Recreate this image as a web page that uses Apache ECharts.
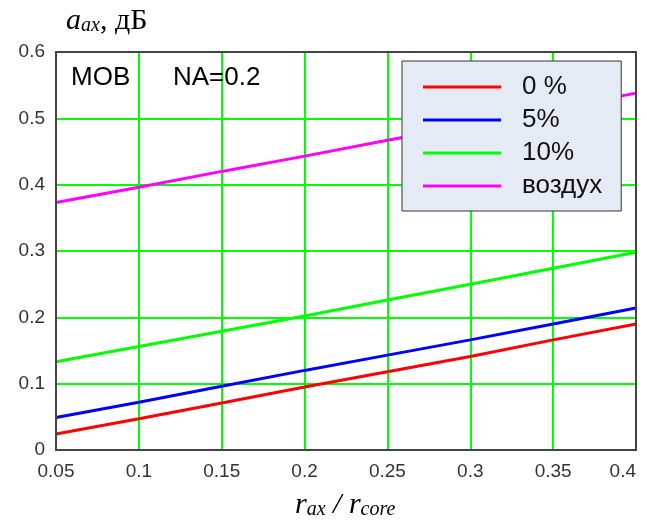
<!DOCTYPE html>
<html><head><meta charset="utf-8">
<script src="https://cdn.jsdelivr.net/npm/echarts@6/dist/echarts.min.js"></script>
<style>html,body{margin:0;padding:0;background:#fff}#c{width:647px;height:524px}</style>
</head><body><div id="c"></div>
<script>
const xValues = [0.05, 0.10, 0.15, 0.20, 0.25, 0.30, 0.35, 0.40];
const seriesNames = ['0 %', '5%', '10%', 'воздух'];
const red0 = [0.024, 0.047, 0.071, 0.095, 0.118, 0.141, 0.166, 0.190];
const blue5 = [0.049, 0.072, 0.096, 0.120, 0.143, 0.166, 0.190, 0.214];
const green10 = [0.133, 0.156, 0.179, 0.202, 0.226, 0.250, 0.274, 0.298];
const air = [0.373, 0.396, 0.420, 0.443, 0.467, 0.490, 0.514, 0.538];
const colors = ['#ff0000', '#0000ff', '#00ff00', '#ff00ff'];
const allData = [red0, blue5, green10, air];

const chart = echarts.init(document.getElementById('c'), null, {renderer: 'canvas'});
const fmt = v => String(Math.round(v * 100) / 100);
chart.setOption({
  animation: false,
  backgroundColor: '#ffffff',
  grid: {left: 56, right: 11, top: 52, bottom: 74, show: true, borderColor: '#444', borderWidth: 2, backgroundColor: 'transparent', z: 10, outerBoundsMode: 'none', containLabel: false},
  xAxis: {
    type: 'value', min: 0.05, max: 0.4, interval: 0.05,
    axisLine: {show: false}, axisTick: {show: false},
    splitLine: {show: true, lineStyle: {color: '#00ff00', width: 2}},
    axisLabel: {formatter: fmt, color: '#333', fontFamily: 'Liberation Sans', fontSize: 19, margin: 12, alignMaxLabel: 'right'}
  },
  yAxis: {
    type: 'value', min: 0, max: 0.6, interval: 0.1,
    axisLine: {show: false}, axisTick: {show: false},
    splitLine: {show: true, lineStyle: {color: '#00ff00', width: 2}},
    axisLabel: {formatter: fmt, color: '#333', fontFamily: 'Liberation Sans', fontSize: 19, margin: 11}
  },
  legend: {
    show: true, orient: 'vertical', left: 402, top: 61, z: 30,
    backgroundColor: '#e5ebf5', borderColor: '#333', borderWidth: 1,
    padding: [13, 19, 12, 21], itemGap: 7, itemWidth: 78, itemHeight: 3,
    icon: 'rect',
    textStyle: {fontFamily: 'Liberation Sans', fontSize: 26, color: '#111', padding: [0, 0, 0, 16]},
    data: seriesNames
  },
  series: allData.map((d, i) => ({
    name: seriesNames[i], type: 'line', showSymbol: false, symbol: 'none',
    data: xValues.map((x, j) => [x, d[j]]),
    lineStyle: {color: colors[i], width: 3}, itemStyle: {color: colors[i]}, z: 5
  })),
  graphic: [
    {type: 'text', left: 66, top: 6, style: {
      text: '{a|a}{s|ax}{r|, дБ}',
      rich: {
        a: {fontFamily: 'Liberation Serif', fontStyle: 'italic', fontSize: 30, fill: '#000', verticalAlign: 'bottom', lineHeight: 32},
        s: {fontFamily: 'Liberation Serif', fontStyle: 'italic', fontSize: 20, fill: '#000', verticalAlign: 'bottom', lineHeight: 24},
        r: {fontFamily: 'Liberation Serif', fontSize: 30, fill: '#000', verticalAlign: 'bottom', lineHeight: 32}
      }
    }},
    {type: 'text', left: 295, top: 490, style: {
      text: '{a|r}{s|ax}{r| / }{a|r}{s|core}',
      rich: {
        a: {fontFamily: 'Liberation Serif', fontStyle: 'italic', fontSize: 30, fill: '#000', verticalAlign: 'bottom', lineHeight: 32},
        s: {fontFamily: 'Liberation Serif', fontStyle: 'italic', fontSize: 20, fill: '#000', verticalAlign: 'bottom', lineHeight: 24},
        r: {fontFamily: 'Liberation Serif', fontStyle: 'italic', fontSize: 30, fill: '#000', verticalAlign: 'bottom', lineHeight: 32}
      }
    }},
    {type: 'text', left: 71, top: 65, z: 20, style: {text: 'MOB', fontFamily: 'Liberation Sans', fontSize: 26, fill: '#000'}},
    {type: 'text', left: 173, top: 65, z: 20, style: {text: 'NA=0.2', fontFamily: 'Liberation Sans', fontSize: 26, fill: '#000'}}
  ]
});
</script></body></html>
